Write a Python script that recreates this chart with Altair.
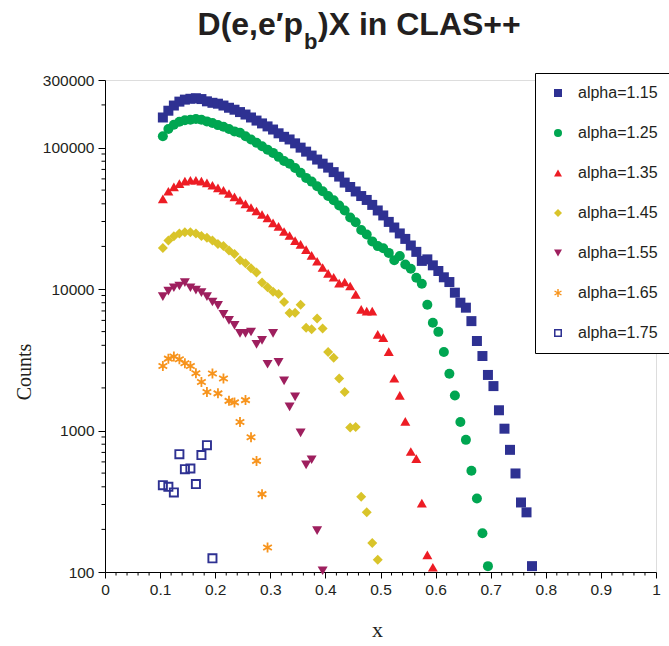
import altair as alt
import pandas as pd

# ---------------- data ----------------
X_BINS = [0.105, 0.115, 0.125, 0.135, 0.145, 0.155, 0.165, 0.175, 0.185, 0.195,
          0.205, 0.215, 0.225, 0.235, 0.245, 0.255, 0.265, 0.275, 0.285, 0.295,
          0.305, 0.315, 0.325, 0.335, 0.345, 0.355, 0.365, 0.375, 0.385, 0.395,
          0.405, 0.415, 0.425, 0.435, 0.445, 0.455, 0.465, 0.475, 0.485, 0.495,
          0.505, 0.515, 0.525, 0.535, 0.545, 0.555, 0.565, 0.575, 0.585, 0.595,
          0.605, 0.615, 0.625, 0.635, 0.645, 0.655, 0.665, 0.675, 0.685, 0.695,
          0.705, 0.715, 0.725, 0.735, 0.745, 0.755, 0.765, 0.775]

SERIES = ["alpha=1.15", "alpha=1.25", "alpha=1.35", "alpha=1.45",
          "alpha=1.55", "alpha=1.65", "alpha=1.75"]

COUNTS_115 = [163000, 182000, 198000, 211000, 218000, 221000, 223000, 220000, 212000, 207000,
              204000, 198000, 191000, 185000, 178000, 171000, 163000, 155000, 148000, 141000,
              134000, 126000, 119000, 114000, 107000, 99800, 93500, 87700, 82200, 76900,
              72100, 67000, 62300, 56500, 52600, 48900, 45400, 42600, 39300, 35900,
              33100, 29800, 27200, 24700, 22600, 20300, 18300, 15800, 16200, 14700,
              13400, 12100, 11200, 9420, 8000, 7380, 5930, 4290, 3360, 2470,
              2060, 1390, 1030, 730, 497, 310, 264, 110]
COUNTS_125 = [120000, 135000, 145000, 152000, 156000, 157000, 159000, 157000, 153000, 149000,
              144000, 140000, 135000, 130000, 127000, 120000, 114000, 108000, 102000, 96600,
              91600, 85900, 80200, 76900, 71600, 66200, 61000, 57400, 53200, 49100,
              45400, 42400, 38900, 35900, 32000, 29600, 26100, 24300, 21700, 20100,
              19400, 18000, 16000, 17100, 14900, 13900, 12000, 10900, 7730, 5780,
              4980, 3590, 2520, 1770, 1150, 859, 519, 331, 188, 110]
COUNTS_135 = [43400, 49100, 52700, 55600, 57800, 58700, 58700, 57800, 56200, 54100,
              51900, 49900, 47300, 44800, 42400, 40000, 37700, 35600, 33600, 31800,
              29300, 27700, 25500, 23900, 22000, 20700, 19000, 17300, 15700, 14200,
              12900, 12100, 11000, 11200, 10500, 9160, 7180, 6980, 6980, 4780,
              4530, 3610, 2340, 1770, 1160, 711, 632, 307, 132, 108]
COUNTS_145 = [19500, 22000, 23600, 24700, 25200, 25200, 24700, 23700, 23000, 22000,
              20800, 20100, 18700, 17700, 16000, 15200, 14000, 13100, 11100, 10300,
              9550, 9230, 8090, 6780, 6800, 7730, 5330, 5190, 6200, 5250,
              3590, 3270, 2330, 1870, 1050, 1060, 340, 264, 160, 122]
COUNTS_155 = [8830, 9660, 10200, 10500, 11100, 10200, 9820, 9420, 8830, 8090,
              7660, 6620, 6000, 5540, 4860, 4860, 4970, 4060, 4340, 2940,
              4860, 3030, 2240, 1470, 1730, 962, 572, 621, 196, 102]
COUNTS_165 = [2860, 3220, 3330, 3190, 2990, 2860, 2540, 2200, 1870, 2530,
              1830, 2330, 1620, 1580, 1150, 1640, 897, 610, 355, 149]
COUNTS_175 = [411, 400, 365, 680, 533, 539, 418, 670, 787, 125]

ALL_COUNTS = [COUNTS_115, COUNTS_125, COUNTS_135, COUNTS_145,
              COUNTS_155, COUNTS_165, COUNTS_175]

COLORS = ["#2e3192", "#00a651", "#ed1c24", "#d9c42a", "#9e1f5e", "#f7941d", "#2e3192"]

ASTERISK = ("M-0.18,-1L0.18,-1L0.18,1L-0.18,1Z"
            "M0.776,-0.656L0.956,-0.344L-0.776,0.656L-0.956,0.344Z"
            "M0.956,0.344L0.776,0.656L-0.956,-0.344L-0.776,-0.656Z")
OPEN_SQUARE = "M-1,-1L1,-1L1,1L-1,1Z M-0.62,-0.62L-0.62,0.62L0.62,0.62L0.62,-0.62Z"
SHAPES = ["square", "circle", "triangle-up", "diamond", "triangle-down", ASTERISK, OPEN_SQUARE]

X_MAJOR = [0, 0.1, 0.2, 0.3, 0.4, 0.5, 0.6, 0.7, 0.8, 0.9, 1]
X_MINOR = [round(i * 0.02, 2) for i in range(51) if i % 5]
Y_MAJOR = [100, 1000, 10000, 100000, 300000]
Y_MINOR = [200, 300, 400, 500, 600, 700, 800, 900,
           2000, 3000, 4000, 5000, 6000, 7000, 8000, 9000,
           20000, 30000, 40000, 50000, 60000, 70000, 80000, 90000,
           200000]

TITLE_MAIN = "D(e,e\u2032p"
TITLE_SUB = "b"
TITLE_REST = ")X in CLAS++"

rows = []
for name, counts in zip(SERIES, ALL_COUNTS):
    for xv, c in zip(X_BINS, counts):
        rows.append({"series": name, "x": xv, "counts": c})
df = pd.DataFrame(rows)

TXT = "#231f20"
FONT = "Liberation Sans"

xscale = alt.Scale(domain=[0, 1], nice=False, zero=False)
yscale = alt.Scale(type="log", domain=[100, 300000], nice=False)

xaxis = alt.Axis(values=X_MAJOR, format=".1~f", tickSize=6, tickColor="black",
                 domainColor="black", labelFont=FONT, labelFontSize=15.5, labelColor=TXT,
                 labelPadding=4, labelFlush=False, labelOverlap=False, grid=False,
                 title="x", titleFont="Liberation Serif", titleFontSize=22,
                 titleFontWeight="normal", titleColor=TXT, titleX=272, titleY=64.7,
                 titleAlign="center", titleBaseline="alphabetic")
yaxis = alt.Axis(values=Y_MAJOR, format="d", tickSize=7, tickColor="black",
                 domainColor="black", labelFont=FONT, labelFontSize=15.5, labelColor=TXT,
                 labelPadding=4, labelFlush=False, labelOverlap=False, grid=False,
                 title="Counts", titleFont="Liberation Serif", titleFontSize=20,
                 titleFontWeight="normal", titleColor=TXT, titleX=-81, titleY=291.5,
                 titleAlign="center", titleBaseline="middle")

legend = alt.Legend(orient="none", legendX=430, legendY=-7, title=None,
                    padding=12, rowPadding=24, symbolOffset=3, labelOffset=12,
                    labelFont=FONT, labelFontSize=16, labelColor=TXT,
                    symbolSize=64, symbolStrokeWidth=0,
                    strokeColor="black", fillColor="white")

points = alt.Chart(df).mark_point(filled=True, opacity=1, size=100, strokeWidth=0).encode(
    x=alt.X("x:Q", scale=xscale, axis=xaxis),
    y=alt.Y("counts:Q", scale=yscale, axis=yaxis),
    color=alt.Color("series:N", scale=alt.Scale(domain=SERIES, range=COLORS), legend=legend),
    shape=alt.Shape("series:N", scale=alt.Scale(domain=SERIES, range=SHAPES), legend=legend),
)

y_minor = alt.Chart(pd.DataFrame({"v": Y_MINOR})).mark_rule(color="black", strokeWidth=1).encode(
    y=alt.Y("v:Q", scale=yscale, axis=yaxis),
    x=alt.value(-3.5), x2=alt.value(0),
)
x_minor = alt.Chart(pd.DataFrame({"v": X_MINOR})).mark_rule(color="black", strokeWidth=1).encode(
    x=alt.X("v:Q", scale=xscale, axis=xaxis),
    y=alt.value(492), y2=alt.value(495.5),
)

one = pd.DataFrame({"t": [0]})
t1 = alt.Chart(one).mark_text(text=TITLE_MAIN, font=FONT, fontWeight="bold", fontSize=32,
                              color=TXT, align="right", baseline="alphabetic").encode(
    x=alt.value(198), y=alt.value(-45))
t2 = alt.Chart(one).mark_text(text=TITLE_SUB, font=FONT, fontWeight="bold", fontSize=22,
                              color=TXT, align="left", baseline="alphabetic").encode(
    x=alt.value(199), y=alt.value(-31))
t3 = alt.Chart(one).mark_text(text=TITLE_REST, font=FONT, fontWeight="bold", fontSize=32,
                              color=TXT, align="left", baseline="alphabetic").encode(
    x=alt.value(213), y=alt.value(-45))

chart = alt.layer(y_minor, x_minor, points, t1, t2, t3).properties(
    width=551, height=492,
    padding={"left": 105, "top": 80, "right": 13, "bottom": 74},
    autosize=alt.AutoSizeParams(type="none"),
).configure_view(stroke=None).configure(background="white")

chart.save("out.html", embed_options={"renderer": "svg", "actions": False})
